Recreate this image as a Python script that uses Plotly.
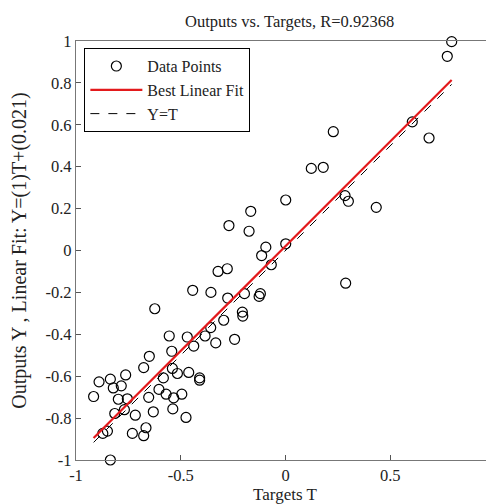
import plotly.graph_objects as go

# Data
targets = [-0.094, -0.114, -0.068, -0.322, -0.278, -0.443, -0.356, -0.196, -0.120, -0.126,
           -0.276, -0.624, -0.206, -0.204, -0.295, -0.357, -0.555, -0.469, -0.384, -0.243,
           -0.333, -0.438, -0.543, -0.650, -0.677, -0.540, -0.462, -0.516, -0.583, -0.410,
           -0.410, -0.890, -0.836, -0.763, -0.822, -0.784, -0.604, -0.570, -0.916, -0.798,
           -0.755, -0.653, -0.534, -0.495, -0.769, -0.631, -0.538, -0.815, -0.717, -0.475,
           -0.666, -0.850, -0.872, -0.731, -0.677, -0.836, 0.001, -0.166, -0.270, -0.174,
           0.001, 0.793, 0.772, 0.605, 0.685, 0.228, 0.123, 0.180, 0.284, 0.300,
           0.433, 0.287]
outputs = [0.016, -0.024, -0.068, -0.100, -0.087, -0.190, -0.200, -0.206, -0.206, -0.219,
           -0.227, -0.278, -0.294, -0.313, -0.333, -0.368, -0.408, -0.413, -0.408, -0.424,
           -0.441, -0.456, -0.481, -0.505, -0.559, -0.563, -0.582, -0.587, -0.608, -0.608,
           -0.619, -0.627, -0.614, -0.594, -0.656, -0.646, -0.663, -0.686, -0.697, -0.710,
           -0.708, -0.701, -0.703, -0.686, -0.760, -0.770, -0.756, -0.778, -0.786, -0.797,
           -0.846, -0.862, -0.873, -0.873, -0.884, -1.000, 0.241, 0.187, 0.119, 0.092,
           0.032, 0.997, 0.927, 0.614, 0.537, 0.567, 0.392, 0.397, 0.262, 0.235,
           0.206, -0.156]

fit_slope = 1.0
fit_intercept = 0.021

x_tick_vals = [-1, -0.5, 0, 0.5, 1]
x_tick_text = ["-1", "-0.5", "0", "0.5", "1"]
y_tick_vals = [-1, -0.8, -0.6, -0.4, -0.2, 0, 0.2, 0.4, 0.6, 0.8, 1]
y_tick_text = ["-1", "-0.8", "-0.6", "-0.4", "-0.2", "0", "0.2", "0.4", "0.6", "0.8", "1"]

title_text = "Outputs vs. Targets, R=0.92368"
x_title = "Targets T"
y_title = "Outputs Y , Linear Fit: Y=(1)T+(0.021)"

x_min, x_max = min(targets), max(targets)
fit_x = [x_min, x_max]
fit_y = [fit_slope * v + fit_intercept for v in fit_x]

FONT = "Liberation Serif, Times New Roman, serif"
FS = 16.5

fig = go.Figure()
fig.add_trace(go.Scatter(
    x=targets, y=outputs, mode="markers", name="Data Points",
    marker=dict(symbol="circle-open", size=10, color="black", line=dict(width=1.2, color="black")),
    cliponaxis=False,
))
fig.add_trace(go.Scatter(
    x=fit_x, y=fit_y, mode="lines", name="Best Linear Fit",
    line=dict(color="#e31a1c", width=2.2),
))
fig.add_trace(go.Scatter(
    x=fit_x, y=fit_x, mode="lines", name="Y=T",
    line=dict(color="black", width=1, dash="dash"),
))

fig.update_layout(
    width=494, height=504,
    margin=dict(l=68, r=8, t=33, b=52, autoexpand=False),
    paper_bgcolor="white", plot_bgcolor="white",
    font=dict(family=FONT, size=FS, color="#222222"),
    title=dict(text=title_text, x=0.570, xanchor="center", y=0.974, yanchor="middle",
               font=dict(family=FONT, size=FS, color="#222222")),
    showlegend=True,
    legend=dict(x=0.02, y=0.983, xanchor="left", yanchor="top",
                bordercolor="black", borderwidth=1, bgcolor="white",
                font=dict(family=FONT, size=16, color="#222222"),
                itemwidth=52, tracegroupgap=0),
    xaxis=dict(range=[-1, 0.995], tickvals=x_tick_vals, ticktext=x_tick_text,
               automargin=False,
               showgrid=False, zeroline=False, showline=True, linecolor="#777777", linewidth=1.3,
               mirror=True, ticks="inside", ticklen=5, tickcolor="#555555",
               title=dict(text=x_title, standoff=0, font=dict(family=FONT, size=17, color="#222222"))),
    yaxis=dict(range=[-1, 1], tickvals=y_tick_vals, ticktext=y_tick_text,
               automargin=False,
               showgrid=False, zeroline=False, showline=True, linecolor="#777777", linewidth=1.3,
               ticks="inside", ticklen=5, tickcolor="#555555",
               title=dict(text=y_title, standoff=15)),
)

fig.write_html("out.html")
